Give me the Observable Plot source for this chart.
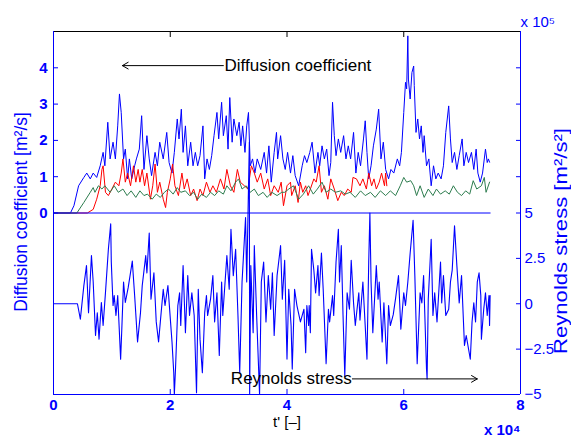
<!DOCTYPE html>
<html><head><meta charset="utf-8">
<script src="https://cdn.jsdelivr.net/npm/d3@7"></script>
<script src="https://cdn.jsdelivr.net/npm/@observablehq/plot@0.6"></script>
<style>body{margin:0;background:#fff}</style>
</head><body><div id="chart"></div>
<script>
// t' in units of 1e4; diffusion coefficient [m^2/s]; Reynolds stress in units of 1e5 [m^2/s^2]
const diffusionBlue = [[0,0],[0.29,0],[0.35,0.2],[0.43,0.75],[0.52,0.98],[0.57,1.1],[0.63,0.94],[0.68,1.1],[0.74,0.98],[0.80,1.3],[0.85,1.67],[0.88,1.3],[0.93,2.5],[0.97,1.49],[1.02,1.95],[1.06,1.49],[1.10,2.4],[1.13,3.28],[1.16,2.77],[1.20,1.49],[1.23,1.76],[1.27,0.94],[1.30,1.49],[1.34,0.94],[1.39,1.3],[1.42,1.49],[1.47,1.76],[1.51,2.68],[1.55,1.2],[1.60,2.13],[1.64,1.49],[1.68,1.03],[1.74,1.67],[1.78,1.3],[1.82,1.95],[1.88,1.49],[1.94,2.22],[1.98,1.39],[2.03,1.1],[2.07,1.67],[2.12,2.59],[2.15,2.04],[2.19,2.86],[2.22,1.67],[2.26,2.4],[2.30,1.3],[2.35,1.95],[2.39,1.3],[2.43,1.67],[2.47,1.3],[2.51,1.58],[2.56,2.4],[2.59,0.94],[2.63,1.49],[2.67,1.2],[2.71,1.58],[2.75,2.13],[2.80,2.77],[2.83,2.04],[2.88,3.05],[2.91,2.13],[2.96,2.68],[2.99,1.76],[3.02,3.18],[3.06,1.95],[3.09,2.59],[3.14,2.13],[3.18,2.5],[3.21,1.85],[3.24,2.4],[3.28,1.67],[3.31,2.4],[3.34,2.77],[3.37,1.3],[3.41,1.49],[3.45,1.1],[3.49,1.49],[3.55,1.2],[3.61,1.67],[3.65,1.1],[3.69,1.85],[3.73,0.85],[3.78,1.67],[3.82,2.22],[3.84,1.49],[3.89,2.13],[3.93,1.49],[3.97,1.2],[4.01,1.67],[4.06,1.1],[4.10,1.58],[4.14,1.03],[4.20,0.75],[4.26,1.3],[4.30,1.58],[4.34,1.39],[4.39,1.67],[4.43,1.95],[4.48,1.1],[4.53,1.67],[4.56,1.3],[4.60,1.85],[4.64,1.49],[4.68,1.76],[4.72,1.03],[4.75,1.39],[4.78,3.05],[4.81,2.13],[4.84,1.58],[4.88,2.04],[4.92,1.67],[4.97,2.13],[5.01,1.49],[5.05,1.85],[5.09,1.49],[5.14,2.22],[5.18,1.1],[5.22,1.67],[5.26,1.3],[5.31,2.04],[5.34,2.54],[5.37,1.67],[5.40,0.94],[5.44,1.3],[5.48,1.85],[5.53,2.31],[5.57,2.86],[5.61,1.49],[5.65,1.95],[5.69,1.2],[5.74,0.94],[5.78,1.2],[5.83,1.1],[5.89,1.49],[5.93,1.3],[5.96,1.67],[6.00,2.77],[6.03,3.6],[6.05,3.42],[6.07,4.88],[6.08,3.69],[6.11,3.14],[6.14,3.87],[6.17,4.05],[6.18,3.51],[6.21,2.22],[6.24,2.59],[6.27,2.04],[6.30,2.4],[6.33,1.67],[6.35,2.13],[6.39,1.3],[6.43,1.49],[6.47,0.75],[6.51,1.3],[6.55,0.94],[6.59,1.1],[6.64,0.94],[6.68,1.3],[6.72,2.22],[6.77,2.95],[6.80,2.04],[6.83,1.39],[6.87,1.67],[6.91,1.2],[6.95,1.58],[7.00,2.04],[7.03,1.3],[7.07,1.67],[7.11,1.39],[7.16,1.67],[7.20,1.2],[7.24,1.76],[7.27,1.1],[7.31,0.85],[7.35,1.1],[7.40,1.76],[7.43,1.39],[7.45,1.49],[7.47,1.4]];

const diffusionRed = [[0,0],[0.58,0],[0.68,0.1],[0.74,0.38],[0.80,0.75],[0.83,1.2],[0.85,1.3],[0.89,0.57],[0.94,0.48],[1.00,0.66],[1.06,0.85],[1.12,0.75],[1.16,1.1],[1.19,1.49],[1.23,0.85],[1.27,1.1],[1.32,0.75],[1.37,1.3],[1.41,0.85],[1.45,1.2],[1.48,0.85],[1.52,1.2],[1.56,0.75],[1.60,1.1],[1.66,0.38],[1.70,0.75],[1.74,1.35],[1.78,0.57],[1.82,0.85],[1.88,0.38],[1.92,0.15],[1.95,0.57],[2.00,0.94],[2.04,1.35],[2.08,0.75],[2.14,0.48],[2.20,1.1],[2.24,0.66],[2.29,0.94],[2.35,0.48],[2.40,0.66],[2.46,0.34],[2.51,0.66],[2.56,0.48],[2.62,0.85],[2.68,0.57],[2.73,0.75],[2.79,0.57],[2.86,0.94],[2.92,0.66],[2.97,1.2],[3.03,0.75],[3.09,0.57],[3.15,1.2],[3.20,0.85],[3.27,0.75],[3.33,0.66],[3.39,1.3],[3.44,1.1],[3.49,0.85],[3.55,1.1],[3.61,0.66],[3.67,0.94],[3.72,0.48],[3.78,0.75],[3.85,0.57],[3.90,0.85],[3.94,0.2],[4.00,0.75],[4.06,0.85],[4.08,0.48],[4.14,0.75],[4.19,0.29],[4.23,0.85],[4.27,0.57],[4.32,0.75],[4.36,0.48],[4.40,0.66],[4.46,0.94],[4.50,0.85],[4.55,1.3],[4.59,0.57],[4.64,0.75],[4.70,0.38],[4.75,0.94],[4.81,0.66],[4.87,0.34],[4.93,0.57],[4.98,0.48],[5.04,0.66],[5.10,0.57],[5.13,0.98],[5.19,0.94],[5.25,0.75],[5.30,0.94],[5.36,0.66],[5.40,1.1],[5.45,0.75],[5.49,0.94],[5.53,0.66],[5.58,0.85],[5.62,1.1],[5.67,0.75],[5.69,1.1],[5.71,0.75]];

const diffusionGreen = [[0,0],[0.40,0],[0.52,0.29],[0.63,0.57],[0.68,0.7],[0.71,0.57],[0.77,0.75],[0.83,0.66],[0.88,0.75],[0.97,0.57],[1.04,0.75],[1.11,0.57],[1.19,0.66],[1.26,0.48],[1.33,0.61],[1.41,0.43],[1.48,0.61],[1.55,0.48],[1.61,0.52],[1.69,0.38],[1.76,0.52],[1.83,0.43],[1.90,0.57],[1.97,0.66],[2.05,0.52],[2.12,0.7],[2.18,0.57],[2.26,0.61],[2.33,0.48],[2.40,0.57],[2.47,0.38],[2.54,0.52],[2.62,0.43],[2.69,0.57],[2.76,0.48],[2.83,0.61],[2.91,0.52],[2.97,0.75],[3.04,0.61],[3.12,0.85],[3.17,0.94],[3.23,0.66],[3.30,0.75],[3.37,0.57],[3.44,0.66],[3.51,0.48],[3.59,0.57],[3.66,0.43],[3.74,0.57],[3.83,0.48],[3.91,0.57],[3.96,0.57],[4.03,0.66],[4.11,0.75],[4.20,0.38],[4.28,0.52],[4.37,0.75],[4.45,0.52],[4.52,0.66],[4.60,0.85],[4.67,0.57],[4.75,0.66],[4.83,0.57],[4.92,0.61],[5.00,0.52],[5.08,0.57],[5.17,0.43],[5.26,0.61],[5.34,0.48],[5.43,0.57],[5.51,0.43],[5.60,0.61],[5.69,0.48],[5.77,0.61],[5.86,0.48],[5.94,0.75],[6.00,0.98],[6.05,0.85],[6.12,0.89],[6.17,0.75],[6.22,0.48],[6.28,0.75],[6.35,0.43],[6.42,0.66],[6.50,0.48],[6.56,0.66],[6.63,0.52],[6.71,0.61],[6.78,0.52],[6.85,0.75],[6.92,0.57],[6.99,0.48],[7.06,0.61],[7.13,0.52],[7.19,0.89],[7.25,0.66],[7.33,0.75],[7.38,0.98],[7.41,0.57],[7.47,0.85]];

const zeroLine = [[0,0],[7.48,0]];

const reynolds = [[0,0],[0.41,0],[0.46,-0.85],[0.52,1.0],[0.565,2.1],[0.60,-0.5],[0.65,2.65],[0.68,1.2],[0.72,-1.75],[0.75,-0.5],[0.78,-1.95],[0.82,0.07],[0.85,-1.2],[0.89,0.6],[0.94,3.0],[0.98,4.4],[0.99,2.3],[1.02,-0.1],[1.04,0.45],[1.07,-0.65],[1.10,0.45],[1.15,-3.05],[1.17,-1.4],[1.20,1.2],[1.23,0.07],[1.28,0.9],[1.35,2.35],[1.39,0.45],[1.44,-2.1],[1.49,-0.5],[1.52,1.0],[1.58,2.65],[1.60,1.7],[1.64,3.9],[1.67,0.25],[1.72,1.7],[1.76,-1.0],[1.80,-2.1],[1.83,-1.0],[1.88,0.8],[1.91,-0.1],[1.96,1.0],[2.03,-2.1],[2.06,-3.8],[2.07,-5.0],[2.09,-3.6],[2.13,-0.1],[2.16,0.6],[2.18,-1.2],[2.22,2.1],[2.26,-1.6],[2.30,1.55],[2.33,-0.65],[2.37,0.6],[2.41,-0.65],[2.45,-4.9],[2.48,0.8],[2.51,-1.95],[2.55,-3.8],[2.59,-0.5],[2.62,0.45],[2.64,-0.65],[2.69,0.25],[2.73,1.55],[2.76,-1.0],[2.80,0.6],[2.84,-2.85],[2.88,1.2],[2.90,-0.65],[2.97,2.65],[3.01,0.8],[3.04,4.1],[3.08,1.55],[3.12,3.0],[3.16,-0.65],[3.19,-3.8],[3.23,1.2],[3.29,4.75],[3.31,1.2],[3.355,8.9],[3.36,-5.0],[3.38,2.1],[3.42,-1.6],[3.44,3.2],[3.48,-0.65],[3.53,-5.0],[3.56,1.2],[3.60,2.3],[3.64,-1.0],[3.68,1.55],[3.72,-0.3],[3.75,1.7],[3.78,-1.75],[3.83,1.55],[3.89,3.2],[3.92,0.25],[3.96,2.4],[4.00,-3.05],[4.03,0.8],[4.07,-1.2],[4.09,-3.6],[4.13,0.8],[4.17,-0.1],[4.23,-1.0],[4.29,-0.3],[4.32,-2.7],[4.34,-0.1],[4.37,-1.2],[4.38,-0.1],[4.40,-1.6],[4.42,3.0],[4.46,1.85],[4.49,0.6],[4.53,2.1],[4.55,0.45],[4.59,2.8],[4.62,0.8],[4.67,-3.3],[4.71,-0.3],[4.73,-1.0],[4.78,0.45],[4.80,-0.65],[4.84,2.3],[4.88,4.1],[4.90,1.2],[4.93,3.2],[4.96,-0.65],[4.99,-4.0],[5.03,0.6],[5.07,-0.3],[5.10,2.4],[5.14,0.05],[5.17,-1.2],[5.23,0.6],[5.25,-0.9],[5.30,1.2],[5.37,-3.05],[5.40,2.3],[5.42,5.0],[5.44,1.2],[5.47,-1.6],[5.53,2.1],[5.56,0.25],[5.58,1.2],[5.63,-2.1],[5.66,0.05],[5.71,-3.3],[5.74,-0.1],[5.77,-1.2],[5.82,-0.6],[5.86,0.3],[5.91,1.55],[5.95,-1.4],[6.00,0.6],[6.03,-0.1],[6.07,1.2],[6.11,2.8],[6.16,4.6],[6.19,1.55],[6.23,-3.3],[6.28,0.6],[6.31,0.05],[6.34,1.55],[6.39,-3.6],[6.40,-4.15],[6.42,0.25],[6.47,3.55],[6.50,-0.65],[6.53,0.6],[6.57,-1.0],[6.63,2.3],[6.65,0.05],[6.68,1.55],[6.72,-0.65],[6.77,-0.3],[6.80,1.2],[6.83,1.85],[6.87,4.3],[6.91,2.1],[6.95,0.05],[6.99,1.55],[7.04,-2.3],[7.07,-1.75],[7.14,-3.05],[7.17,-1.0],[7.20,0.05],[7.23,-1.0],[7.26,1.2],[7.29,1.7],[7.32,0.45],[7.33,-1.95],[7.37,-0.3],[7.40,0.6],[7.43,-0.65],[7.46,0.45],[7.47,-1.2],[7.48,0.45]];

const xTicks = [0, 2, 4, 6, 8];
const leftTicks = [0, 1, 2, 3, 4];
const rightTicks = [5, 2.5, 0, -2.5, -5];
const xLabel = "t' [–]";
const leftLabel = "Diffusion coefficient [m²/s]";
const rightLabel = "Reynolds stress [m²/s²]";
const xExponent = "x 10⁴";
const rightExponent = "x 10⁵";
const noteDiffusion = "Diffusion coefficient";
const noteReynolds = "Reynolds stress";

const BLUE = "#0000ff", RED = "#ff0000", GREEN = "#2e7d4f";
// right axis (Reynolds, -5..15) mapped onto the left scale (-5..5)
const toLeft = r => (r - 5) / 2;
const fromLeft = l => 2 * l + 5;
const fmtR = l => { const r = fromLeft(l); return r < 0 ? "−" + Math.abs(r) : String(r); };
const FS = 15;

const chart = Plot.plot({
  width: 571, height: 441,
  marginLeft: 53, marginRight: 51, marginTop: 31, marginBottom: 47,
  style: {fontFamily: "'Liberation Sans', Arial, sans-serif", background: "white", overflow: "visible"},
  x: {domain: [0, 8], axis: null},
  y: {domain: [-5, 5], axis: null},
  marks: [
    Plot.line(diffusionBlue, {x: d => d[0], y: d => d[1], stroke: BLUE, strokeWidth: 1}),
    Plot.line(diffusionRed, {x: d => d[0], y: d => d[1], stroke: RED, strokeWidth: 1}),
    Plot.line(diffusionGreen, {x: d => d[0], y: d => d[1], stroke: GREEN, strokeWidth: 1}),
    Plot.line(zeroLine, {x: d => d[0], y: d => d[1], stroke: BLUE, strokeWidth: 1}),
    Plot.line(reynolds, {x: d => d[0], y: d => toLeft(d[1]), stroke: BLUE, strokeWidth: 1.1}),
    // frame
    Plot.ruleY([5], {stroke: "black"}),
    Plot.ruleY([-5], {stroke: BLUE}),
    Plot.ruleX([0], {stroke: BLUE}),
    Plot.ruleX([8], {stroke: BLUE}),
    // bottom axis
    Plot.axisX(xTicks, {anchor: "bottom", tickSize: 0, tickPadding: 5, color: BLUE, fontSize: FS, fontWeight: "bold", label: null}),
    Plot.axisX(xTicks.slice(1, -1), {anchor: "bottom", tickSize: 5, dy: -5, stroke: BLUE, fill: "none", label: null}),
    Plot.axisX(xTicks.slice(1, -1), {anchor: "top", tickSize: 5, dy: 5, stroke: "black", fill: "none", label: null}),
    // left axis
    Plot.axisY(leftTicks, {anchor: "left", tickSize: 0, tickPadding: 6, color: BLUE, fontSize: FS, fontWeight: "bold", label: null}),
    Plot.axisY(leftTicks, {anchor: "left", tickSize: 5, dx: 5, stroke: BLUE, fill: "none", label: null}),
    Plot.axisY(leftTicks.slice(1), {anchor: "right", tickSize: 5, dx: -5, stroke: BLUE, fill: "none", label: null}),
    // right axis
    Plot.axisY(rightTicks.map(toLeft), {anchor: "right", tickSize: 0, tickPadding: 4, tickFormat: fmtR, color: BLUE, fontSize: FS, label: null}),
    Plot.axisY(rightTicks.slice(0, -1).map(toLeft), {anchor: "right", tickSize: 5, dx: -5, stroke: BLUE, fill: "none", label: null}),
    // axis titles
    Plot.text([xLabel], {frameAnchor: "bottom", textAnchor: "middle", dy: 32, fontSize: 15, fill: "black"}),
    Plot.text([xExponent], {frameAnchor: "bottom-right", textAnchor: "end", dy: 40, fontSize: 15, fontWeight: "bold", fill: BLUE}),
    Plot.text([rightExponent], {frameAnchor: "top-right", textAnchor: "start", dy: -15, fontSize: 15, fill: BLUE}),
    Plot.text([leftLabel], {frameAnchor: "left", textAnchor: "middle", dx: -32, dy: -1, rotate: -90, fontSize: 17.5, fill: BLUE}),
    Plot.text([rightLabel], {frameAnchor: "right", textAnchor: "middle", dx: 41, dy: 28, rotate: -90, fontSize: 17.5, fill: BLUE}),
    // annotations
    Plot.arrow([noteDiffusion], {x1: 2.91, y1: 4.06, x2: 1.18, y2: 4.06, stroke: "black", strokeWidth: 1, headLength: 10}),
    Plot.text([noteDiffusion], {x: 2.93, y: 4.06, textAnchor: "start", fontSize: 17, fill: "black"}),
    Plot.arrow([noteReynolds], {x1: 5.12, y1: -4.57, x2: 7.26, y2: -4.57, stroke: "black", strokeWidth: 1, headLength: 10}),
    Plot.text([noteReynolds], {x: 5.11, y: -4.57, textAnchor: "end", fontSize: 17, fill: "black"})
  ]
});
// the reference's right-hand title is drawn stretched along its length
d3.select(chart).selectAll("text").filter(function() { return this.textContent === rightLabel; })
  .attr("textLength", 226).attr("lengthAdjust", "spacingAndGlyphs");
document.getElementById("chart").appendChild(chart);
</script>
</body></html>
